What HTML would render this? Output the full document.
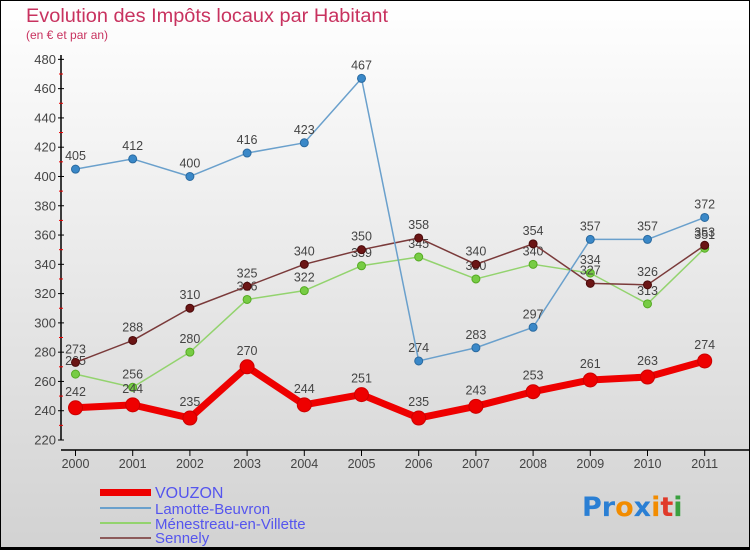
<!DOCTYPE html>
<html><head><meta charset="utf-8"><style>
html,body{margin:0;padding:0}
body{width:750px;height:550px;overflow:hidden;font-family:"Liberation Sans",sans-serif}
svg{display:block}
</style></head><body>
<svg id="chart" width="750" height="550" xmlns="http://www.w3.org/2000/svg">
<defs><linearGradient id="bg" x1="0" y1="0" x2="0" y2="1"><stop offset="0" stop-color="#ffffff"/><stop offset="1" stop-color="#d2d2d2"/></linearGradient></defs>
<rect x="0.5" y="0.5" width="749" height="549" fill="url(#bg)" stroke="#000" stroke-width="1"/>
<rect x="0" y="547" width="750" height="3" fill="#000"/>
<text x="26" y="22" font-size="19" textLength="362" lengthAdjust="spacingAndGlyphs" fill="#c8325f">Evolution des Impôts locaux par Habitant</text>
<text x="26" y="39" font-size="12" fill="#c8325f">(en € et par an)</text>
<g id="axes"></g><g id="series"></g>
<g>
<rect x="100" y="489" width="51" height="7" fill="#ee0000"/>
<line x1="100" y1="508" x2="151" y2="508" stroke="#6aa0cc" stroke-width="2"/>
<line x1="100" y1="523" x2="151" y2="523" stroke="#93d36e" stroke-width="2"/>
<line x1="100" y1="538" x2="151" y2="538" stroke="#8c5a5a" stroke-width="2"/>
<text x="155" y="498" font-size="16" fill="#5555ee">VOUZON</text>
<text x="155" y="514" font-size="15" fill="#5555ee">Lamotte-Beuvron</text>
<text x="155" y="529" font-size="15" fill="#5555ee">Ménestreau-en-Villette</text>
<text x="155" y="543" font-size="15" fill="#5555ee">Sennely</text>
</g>
<g font-size="27" font-weight="bold" font-family="'DejaVu Sans',sans-serif">
<text x="582" y="516"><tspan fill="#2a7fd4">Pr</tspan><tspan fill="#f28c00">o</tspan><tspan fill="#2a7fd4">x</tspan><tspan fill="#f28c00">i</tspan><tspan fill="#e03a2a">t</tspan><tspan fill="#3aa040">i</tspan></text>
</g>
</svg>
<script>
const years=["2000","2001","2002","2003","2004","2005","2006","2007","2008","2009","2010","2011"];
const yTicks=[220,240,260,280,300,320,340,360,380,400,420,440,460,480];
const vouzon=[242,244,235,270,244,251,235,243,253,261,263,274];
const lamotte=[405,412,400,416,423,467,274,283,297,357,357,372];
const menestreau=[265,256,280,316,322,339,345,330,340,334,313,351];
const sennely=[273,288,310,325,340,350,358,340,354,327,326,353];

const NS="http://www.w3.org/2000/svg";
const X=i=>75.5+i*57.2;
const Y=v=>440-(v-220)*1.464;
function mk(tag,attrs,parent){const e=document.createElementNS(NS,tag);for(const k in attrs)e.setAttribute(k,attrs[k]);parent.appendChild(e);return e;}
const ax=document.getElementById('axes');
const yl=mk('line',{x1:61,y1:55,x2:61,y2:440,stroke:'#000','stroke-width':1.5},ax);


const xl=mk('line',{x1:61,y1:450,x2:750,y2:450,stroke:'#000','stroke-width':1.5},ax);


yTicks.forEach((t,i)=>{
  mk('line',{x1:58,y1:Y(t),x2:64,y2:Y(t),stroke:'#000'},ax);
  if(i<yTicks.length-1)mk('line',{x1:59,y1:Y(t+10),x2:63,y2:Y(t+10),stroke:'#e00'},ax);
  const tx=mk('text',{x:56,y:Y(t)+4.5,'font-size':13,fill:'#444','text-anchor':'end'},ax);
  tx.textContent=t;
  
  
});
years.forEach((y,i)=>{
  mk('line',{x1:X(i),y1:450,x2:X(i),y2:456,stroke:'#000'},ax);
  const tx=mk('text',{x:X(i),y:468,'font-size':12.5,fill:'#444','text-anchor':'middle'},ax);
  tx.textContent=y;
  
  
});
const sg=document.getElementById('series');
function series(data,name,color,lw,r,dot,dotStroke){
  const g=mk('g',{},sg);
  
  
  mk('polyline',{points:data.map((v,i)=>X(i)+','+Y(v)).join(' '),fill:'none',stroke:color,'stroke-width':lw,'stroke-linejoin':'round'},g);
  data.forEach((v,i)=>{
    const c=mk('circle',{cx:X(i),cy:Y(v),r:r,fill:dot,stroke:dotStroke,'stroke-width':1},g);
    
    
    const t=mk('text',{x:X(i),y:Y(v)-r-5,'font-size':12.5,fill:'#444','text-anchor':'middle'},g);
    t.textContent=v;
  });
}
series(menestreau,'menestreau-series','#93d36e',1.5,4,'#77cc44','#55aa22');
series(sennely,'sennely-series','#7a3a3a',1.5,4,'#6b1515','#4a0a0a');
series(lamotte,'lamotte-series','#6aa0cc',1.5,4,'#3a88c8','#2a6aa0');
series(vouzon,'vouzon-series','#ee0000',7,7,'#ee0000','#cc0000');
</script>
</body></html>
